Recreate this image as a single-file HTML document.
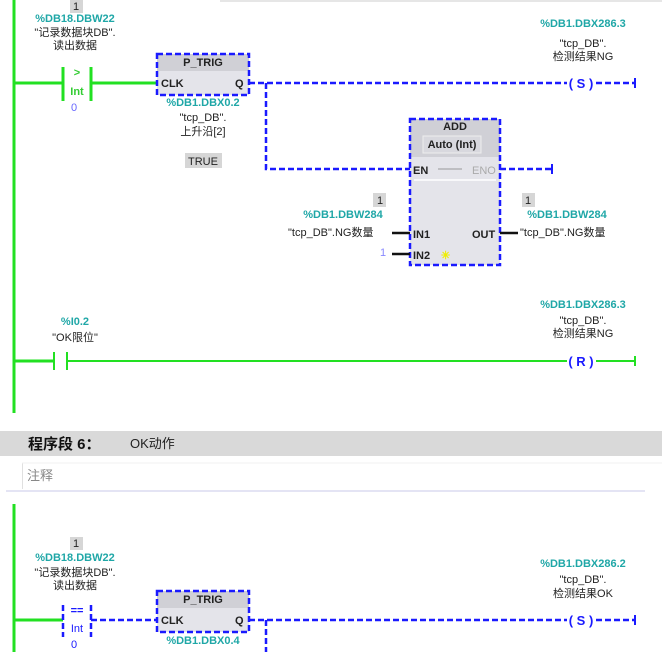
<!DOCTYPE html>
<html><head><meta charset="utf-8"><style>
html,body{margin:0;padding:0;background:#fff;width:662px;height:652px;overflow:hidden}
svg{display:block}
text{font-family:"Liberation Sans","Noto Sans CJK SC",sans-serif;font-size:11px;fill:#222}
.t{fill:#1fa7a7;font-weight:bold}
.c{text-anchor:middle}
.g{stroke:#22e022;stroke-width:3;fill:none}
.b{stroke:#1a1aff;stroke-width:2.5;stroke-dasharray:6 3;fill:none}
.k{stroke:#111;stroke-width:2.5}
.bk{font-weight:bold}
</style></head><body>
<svg width="662" height="652" viewBox="0 0 662 652" xmlns="http://www.w3.org/2000/svg">
<line x1="220" y1="1" x2="662" y2="1" stroke="#e6e6e6" stroke-width="2"/>
<!-- rail 1 -->
<line x1="14" y1="0" x2="14" y2="413" class="g"/>
<!-- rung 1 -->
<rect x="70" y="0" width="13" height="13" fill="#d6d6d6"/><text x="76" y="10" class="c">1</text>
<text x="75" y="22" class="t c">%DB18.DBW22</text>
<text x="75" y="36" class="c">"记录数据块DB".</text>
<text x="75" y="49" class="c">读出数据</text>
<line x1="14" y1="83" x2="63" y2="83" class="g"/>
<line x1="63" y1="67" x2="63" y2="101" class="g"/>
<line x1="91" y1="67" x2="91" y2="101" class="g"/>
<line x1="91" y1="83" x2="157" y2="83" class="g"/>
<text x="77" y="76" class="c" style="fill:#3c3;font-weight:bold">&gt;</text>
<text x="77" y="95" class="c" style="fill:#3c3;font-weight:bold">Int</text>
<text x="74" y="111" class="c" style="fill:#66f">0</text>
<!-- P_TRIG -->
<rect x="157" y="54" width="92" height="41" fill="#e4e4ea"/>
<rect x="157" y="54" width="92" height="17" fill="#d0d0d6"/>
<rect x="157" y="54" width="92" height="41" class="b"/>
<text x="203" y="66" class="c bk">P_TRIG</text>
<text x="161" y="87" class="bk">CLK</text><text x="235" y="87" class="bk">Q</text>
<text x="203" y="106" class="t c">%DB1.DBX0.2</text>
<text x="203" y="121" class="c">"tcp_DB".</text>
<text x="203" y="135" class="c">上升沿[2]</text>
<rect x="185" y="153" width="37" height="15" fill="#d6d6d6"/><text x="203" y="165" class="c">TRUE</text>
<path d="M249 83 H567" class="b"/>
<text x="581" y="88" class="c" style="fill:#1a1aff;font-weight:bold;font-size:13px">(  S  )</text>
<path d="M596 83 H634" class="b"/><line x1="635" y1="78" x2="635" y2="88" stroke="#1a1aff" stroke-width="2"/>
<text x="583" y="27" class="t c">%DB1.DBX286.3</text>
<text x="583" y="47" class="c">"tcp_DB".</text>
<text x="583" y="60" class="c">检测结果NG</text>
<path d="M266 83 V169 H410" class="b"/>
<!-- ADD -->
<rect x="410" y="119" width="90" height="146" fill="#e4e4ea"/>
<rect x="410" y="119" width="90" height="38" fill="#d0d0d6"/>
<rect x="423" y="136" width="58" height="17" fill="#d8d8de" stroke="#eee"/>
<rect x="410" y="119" width="90" height="146" class="b"/>
<text x="455" y="130" class="c bk">ADD</text>
<text x="452" y="148" class="c bk">Auto (Int)</text>
<text x="413" y="174" class="bk">EN</text>
<line x1="438" y1="169" x2="462" y2="169" stroke="#999"/>
<text x="472" y="174" style="fill:#aaa">ENO</text>
<line x1="414" y1="180" x2="496" y2="180" stroke="#fff" stroke-width="1.5"/>
<path d="M500 169 H551" class="b"/><line x1="552" y1="164" x2="552" y2="174" stroke="#1a1aff" stroke-width="2"/>
<rect x="373" y="193" width="13" height="14" fill="#d6d6d6"/><text x="380" y="204" class="c">1</text>
<text x="343" y="218" class="t c">%DB1.DBW284</text>
<text x="288" y="236">"tcp_DB".NG数量</text>
<line x1="392" y1="233" x2="410" y2="233" class="k"/>
<text x="413" y="238" class="bk">IN1</text>
<text x="380" y="256" style="fill:#88f">1</text>
<line x1="392" y1="254" x2="410" y2="254" class="k"/>
<text x="413" y="259" class="bk">IN2</text>
<text x="441" y="259" style="fill:#ee0;font-weight:bold">✳</text>
<text x="472" y="238" class="bk">OUT</text>
<line x1="500" y1="233" x2="518" y2="233" class="k"/>
<rect x="522" y="193" width="13" height="14" fill="#d6d6d6"/><text x="528" y="204" class="c">1</text>
<text x="567" y="218" class="t c">%DB1.DBW284</text>
<text x="520" y="236">"tcp_DB".NG数量</text>
<!-- rung 2 -->
<text x="75" y="325" class="t c">%I0.2</text>
<text x="75" y="341" class="c">"OK限位"</text>
<line x1="14" y1="361" x2="54" y2="361" class="g" stroke-width="2"/>
<line x1="54" y1="352" x2="54" y2="370" stroke="#22e022" stroke-width="2"/>
<line x1="67" y1="352" x2="67" y2="370" stroke="#22e022" stroke-width="2"/>
<line x1="67" y1="361" x2="567" y2="361" stroke="#22e022" stroke-width="2"/>
<text x="581" y="366" class="c" style="fill:#1a1aff;font-weight:bold;font-size:13px">(  R  )</text>
<line x1="596" y1="361" x2="634" y2="361" stroke="#22e022" stroke-width="2"/>
<line x1="635" y1="356" x2="635" y2="366" stroke="#22e022" stroke-width="2"/>
<text x="583" y="308" class="t c">%DB1.DBX286.3</text>
<text x="583" y="324" class="c">"tcp_DB".</text>
<text x="583" y="337" class="c">检测结果NG</text>
<!-- header -->
<rect x="0" y="431" width="662" height="25" fill="#d9d9d9"/>
<text x="28" y="449" style="font-size:15px;font-weight:bold;fill:#111">程序段 6：</text>
<text x="130" y="448" style="font-size:13px">OK动作</text>
<rect x="22" y="463" width="640" height="26" fill="#fff"/>
<line x1="22.5" y1="463" x2="22.5" y2="489" stroke="#e0e0e0"/>
<line x1="22" y1="463" x2="662" y2="463" stroke="#f0f0f0"/>
<text x="27" y="480" style="font-size:13px;fill:#888">注释</text>
<line x1="6" y1="491" x2="645" y2="491" stroke="#dcdcf0" stroke-width="1.5"/>
<!-- bottom rung -->
<line x1="14" y1="504" x2="14" y2="652" class="g"/>
<rect x="70" y="537" width="13" height="13" fill="#d6d6d6"/><text x="76" y="547" class="c">1</text>
<text x="75" y="561" class="t c">%DB18.DBW22</text>
<text x="75" y="576" class="c">"记录数据块DB".</text>
<text x="75" y="589" class="c">读出数据</text>
<line x1="14" y1="620" x2="63" y2="620" class="g"/>
<line x1="63" y1="605" x2="63" y2="637" class="b" stroke-dasharray="4 2"/>
<line x1="91" y1="605" x2="91" y2="637" class="b" stroke-dasharray="4 2"/>
<text x="77" y="614" class="c" style="fill:#1a1aff;font-weight:bold">==</text>
<text x="77" y="632" class="c" style="fill:#1a1aff">Int</text>
<text x="74" y="648" class="c" style="fill:#1a1aff">0</text>
<path d="M91 620 H157" class="b"/>
<rect x="157" y="591" width="92" height="41" fill="#e4e4ea"/>
<rect x="157" y="591" width="92" height="17" fill="#d0d0d6"/>
<rect x="157" y="591" width="92" height="41" class="b"/>
<text x="203" y="603" class="c bk">P_TRIG</text>
<text x="161" y="624" class="bk">CLK</text><text x="235" y="624" class="bk">Q</text>
<text x="203" y="644" class="t c">%DB1.DBX0.4</text>
<path d="M249 620 H567" class="b"/>
<path d="M266 620 V652" class="b"/>
<text x="581" y="625" class="c" style="fill:#1a1aff;font-weight:bold;font-size:13px">(  S  )</text>
<path d="M596 620 H634" class="b"/><line x1="635" y1="615" x2="635" y2="625" stroke="#1a1aff" stroke-width="2"/>
<text x="583" y="567" class="t c">%DB1.DBX286.2</text>
<text x="583" y="583" class="c">"tcp_DB".</text>
<text x="583" y="597" class="c">检测结果OK</text>
</svg>
</body></html>
